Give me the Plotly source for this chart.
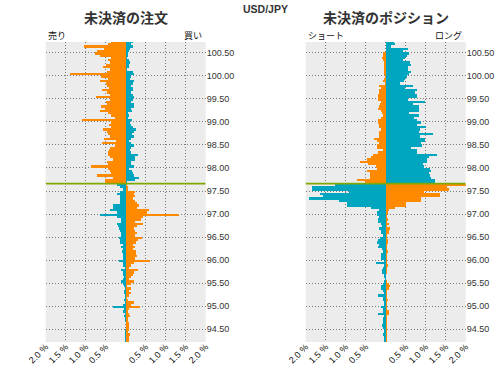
import plotly.graph_objects as go

# ---------------- data ----------------
PAIR = "USD/JPY"
CURRENT_PRICE = 97.66
BUCKET = 0.05
N_ABOVE = 62
N_BELOW = 69

# Open orders (%), above current price, listed from top (highest price) down to the price line
orders_sell_above = [0.38, 0.44, 1.05, 0.54, 0.73, 0.78, 0.65, 0.36, 0.44, 0.40,
                     0.50, 0.57, 0.40, 0.48, 1.40, 0.61, 0.44, 0.65, 0.50, 0.48,
                     0.42, 0.60, 0.48, 0.40, 0.75, 0.40, 0.50, 0.48, 0.63, 0.53,
                     0.65, 0.44, 0.38, 0.28, 1.10, 0.38, 0.42, 0.38, 0.57, 0.48,
                     0.44, 0.40, 0.54, 0.25, 0.60, 0.27, 0.40, 0.42, 0.44, 0.44,
                     0.40, 0.33, 0.47, 0.44, 0.88, 0.44, 0.40, 0.38, 0.73, 0.32,
                     0.52, 0.53]
orders_buy_above = [0.17, 0.12, 0.17, 0.10, 0.08, 0.06, 0.06, 0.03, 0.08, 0.10,
                    0.08, 0.08, 0.03, 0.17, 0.20, 0.14, 0.10, 0.20, 0.18, 0.14,
                    0.17, 0.17, 0.14, 0.18, 0.20, 0.17, 0.14, 0.20, 0.20, 0.14,
                    0.15, 0.06, 0.07, 0.06, 0.15, 0.10, 0.13, 0.18, 0.25, 0.20,
                    0.15, 0.20, 0.12, 0.08, 0.12, 0.20, 0.12, 0.10, 0.12, 0.30,
                    0.23, 0.22, 0.12, 0.14, 0.20, 0.08, 0.15, 0.18, 0.20, 0.32,
                    0.23, 0.03]
# Open orders (%), below current price, listed from the price line downward
orders_sell_below = [0.23, 0.15, 0.07, 0.15, 0.22, 0.15, 0.15, 0.15, 0.15, 0.32,
                     0.32, 0.40, 0.23, 0.65, 0.23, 0.11, 0.11, 0.22, 0.19, 0.17,
                     0.15, 0.11, 0.13, 0.17, 0.15, 0.15, 0.08, 0.11, 0.08, 0.10,
                     0.07, 0.08, 0.07, 0.17, 0.08, 0.07, 0.03, 0.13, 0.08, 0.07,
                     0.05, 0.08, 0.13, 0.07, 0.05, 0.03, 0.05, 0.05, 0.03, 0.03,
                     0.05, 0.03, 0.07, 0.32, 0.05, 0.07, 0.03, 0.05, 0.02, 0.02,
                     0.00, 0.00, 0.00, 0.02, 0.03, 0.01, 0.02, 0.01, 0.02]
orders_buy_below = [0.03, 0.05, 0.06, 0.22, 0.20, 0.22, 0.18, 0.22, 0.27, 0.32,
                    0.28, 0.57, 0.52, 1.32, 0.43, 0.37, 0.22, 0.42, 0.27, 0.20,
                    0.22, 0.28, 0.22, 0.40, 0.31, 0.25, 0.18, 0.22, 0.18, 0.25,
                    0.25, 0.27, 0.22, 0.60, 0.20, 0.12, 0.08, 0.30, 0.20, 0.17,
                    0.14, 0.08, 0.20, 0.12, 0.03, 0.12, 0.08, 0.12, 0.08, 0.03,
                    0.05, 0.20, 0.14, 0.35, 0.08, 0.06, 0.08, 0.10, 0.05, 0.06,
                    0.07, 0.07, 0.08, 0.08, 0.06, 0.10, 0.07, 0.08, 0.07]

# Open positions (%), above current price, top down to the price line
positions_short_above = [0.00, 0.00, 0.00, 0.00, 0.00, 0.07, 0.08, 0.10, 0.07, 0.05,
                         0.05, 0.04, 0.04, 0.04, 0.04, 0.03, 0.04, 0.07, 0.03, 0.18,
                         0.11, 0.17, 0.18, 0.20, 0.20, 0.19, 0.11, 0.15, 0.17, 0.20,
                         0.13, 0.10, 0.07, 0.12, 0.20, 0.20, 0.17, 0.17, 0.12, 0.17,
                         0.18, 0.17, 0.30, 0.23, 0.17, 0.22, 0.22, 0.07, 0.20, 0.33,
                         0.38, 0.48, 0.65, 0.44, 0.25, 0.22, 0.47, 0.40, 0.40, 0.40,
                         0.72, 0.53]
positions_long_above = [0.20, 0.23, 0.14, 0.55, 0.43, 0.58, 0.52, 0.48, 0.43, 0.60,
                        0.63, 0.56, 0.56, 0.63, 0.58, 0.53, 0.48, 0.45, 0.35, 0.68,
                        0.48, 0.77, 0.73, 0.77, 0.77, 0.56, 0.98, 0.67, 0.83, 0.83,
                        0.83, 0.58, 0.83, 0.71, 0.77, 0.88, 0.79, 1.00, 0.85, 0.83,
                        1.17, 0.85, 0.98, 0.98, 0.89, 0.90, 0.62, 0.77, 0.78, 1.27,
                        1.08, 1.02, 1.02, 0.93, 0.95, 1.10, 1.13, 1.08, 1.10, 1.14,
                        1.23, 1.23]
# Open positions (%), below current price, from the price line downward
positions_short_below = [1.28, 1.85, 1.85, 0.92, 1.65, 1.57, 1.93, 1.17, 0.97, 0.97,
                         0.38, 0.17, 0.22, 0.22, 0.17, 0.19, 0.20, 0.12, 0.10, 0.17,
                         0.13, 0.11, 0.07, 0.15, 0.20, 0.22, 0.17, 0.20, 0.10, 0.07,
                         0.12, 0.12, 0.12, 0.05, 0.25, 0.05, 0.07, 0.10, 0.10, 0.05,
                         0.05, 0.03, 0.05, 0.07, 0.12, 0.12, 0.07, 0.05, 0.20, 0.07,
                         0.08, 0.05, 0.05, 0.13, 0.07, 0.07, 0.20, 0.05, 0.07, 0.08,
                         0.07, 0.10, 0.07, 0.05, 0.05, 0.07, 0.05, 0.04, 0.05]
positions_long_below = [2.10, 1.52, 1.58, 0.95, 1.35, 1.35, 0.88, 0.88, 0.50, 0.50,
                        0.23, 0.08, 0.06, 0.03, 0.03, 0.05, 0.02, 0.07, 0.03, 0.10,
                        0.08, 0.07, 0.02, 0.03, 0.05, 0.05, 0.03, 0.03, 0.02, 0.05,
                        0.02, 0.02, 0.02, 0.03, 0.03, 0.05, 0.02, 0.02, 0.02, 0.01,
                        0.01, 0.00, 0.02, 0.07, 0.10, 0.08, 0.02, 0.02, 0.02, 0.02,
                        0.05, 0.02, 0.02, 0.02, 0.02, 0.07, 0.07, 0.03, 0.02, 0.02,
                        0.02, 0.02, 0.03, 0.02, 0.03, 0.02, 0.02, 0.02, 0.02]

price_ticks = [94.5, 95.0, 95.5, 96.0, 96.5, 97.0, 97.5, 98.0, 98.5, 99.0, 99.5, 100.0, 100.5]
pct_ticks = [-2.0, -1.5, -1.0, -0.5, 0.0, 0.5, 1.0, 1.5, 2.0]
pct_labels = ["2.0 %", "1.5 %", "1.0 %", "0.5 %", "", "0.5 %", "1.0 %", "1.5 %", "2.0 %"]

panel_titles = ["未決済の注文", "未決済のポジション"]
side_labels = [("売り", "買い"), ("ショート", "ロング")]

# ---------------- styling ----------------
ORANGE = "#ff8a00"
TEAL = "#00a5c0"
GREEN = "#80a800"
BG = "#ececec"
GRID = "#7a7a7a"
W, H = 496, 365
JP = "Noto Sans CJK JP"
LAT = "Liberation Sans, Arial, sans-serif"

bucket_prices = ([CURRENT_PRICE + BUCKET * (j + 0.5) for j in reversed(range(N_ABOVE))] +
                 [CURRENT_PRICE - BUCKET * (k + 0.5) for k in range(N_BELOW)])

x_domains = [[45.7 / W, 205.7 / W], [305.7 / W, 465.7 / W]]
y_domain = [23 / H, 323 / H]
y_range = [94.225, 100.732]

fig = go.Figure()
panels = [
    (orders_sell_above + orders_sell_below, orders_buy_above + orders_buy_below),
    (positions_short_above + positions_short_below, positions_long_above + positions_long_below),
]
for i, (left_vals, right_vals) in enumerate(panels):
    xa = "x" if i == 0 else "x2"
    ya = "y" if i == 0 else "y2"
    left_colors = [ORANGE if p > CURRENT_PRICE else TEAL for p in bucket_prices]
    right_colors = [TEAL if p > CURRENT_PRICE else ORANGE for p in bucket_prices]
    fig.add_trace(go.Bar(y=bucket_prices, x=[-v for v in left_vals], orientation="h",
                         width=BUCKET, marker=dict(color=left_colors, line=dict(width=0)),
                         xaxis=xa, yaxis=ya, showlegend=False, hoverinfo="skip"))
    fig.add_trace(go.Bar(y=bucket_prices, x=right_vals, orientation="h",
                         width=BUCKET, marker=dict(color=right_colors, line=dict(width=0)),
                         xaxis=xa, yaxis=ya, showlegend=False, hoverinfo="skip"))

axis_common_x = dict(range=[-2, 2], tickvals=pct_ticks, ticktext=pct_labels, tickangle=-45,
                     showgrid=True, gridcolor=GRID, griddash="1px,2px", gridwidth=1,
                     zeroline=False, showline=False, ticks="", automargin=False,
                     ticklabelstandoff=-3,
                     tickfont=dict(family=LAT, size=9, color="#111"), fixedrange=True)
axis_common_y = dict(range=y_range, tickvals=price_ticks, tickformat=".2f", side="right",
                     showgrid=True, gridcolor=GRID, griddash="1px,2px", gridwidth=1,
                     zeroline=False, showline=False, ticks="", automargin=False,
                     tickfont=dict(family=LAT, size=9, color="#333"), fixedrange=True)

fig.update_layout(
    width=W, height=H, margin=dict(l=0, r=0, t=0, b=0, autoexpand=False),
    paper_bgcolor="white", plot_bgcolor=BG,
    barmode="relative", bargap=0,
    xaxis=dict(domain=x_domains[0], anchor="y", **axis_common_x),
    yaxis=dict(domain=y_domain, anchor="x", **axis_common_y),
    xaxis2=dict(domain=x_domains[1], anchor="y2", **axis_common_x),
    yaxis2=dict(domain=y_domain, anchor="x2", **axis_common_y),
)

shapes = []
annotations = []
for i in range(2):
    xr = "x" if i == 0 else "x2"
    yr = "y" if i == 0 else "y2"
    # current price line
    shapes.append(dict(type="line", xref=xr, yref=yr, x0=-2, x1=2,
                       y0=CURRENT_PRICE, y1=CURRENT_PRICE,
                       line=dict(color=GREEN, width=1.6), layer="above"))
    # price marker tag
    shapes.append(dict(type="path", xref=xr, yref=yr, xsizemode="pixel", ysizemode="pixel",
                       xanchor=-2, yanchor=CURRENT_PRICE,
                       path="M-46,8 L-3,8 L0,1 L-3,-6 L-46,-6 Z",
                       fillcolor=GREEN, line=dict(width=0), layer="above"))
    annotations.append(dict(xref=xr, yref=yr, x=-2, y=CURRENT_PRICE, xshift=-44, yshift=1,
                            xanchor="left", yanchor="middle", showarrow=False,
                            text=f"{CURRENT_PRICE:.2f}",
                            font=dict(family=LAT, size=11, color="white")))
    cx = (x_domains[i][0] + x_domains[i][1]) / 2
    annotations.append(dict(xref="paper", yref="paper", x=cx, y=1 - 17 / H,
                            xanchor="center", yanchor="middle", showarrow=False,
                            text=f"<b>{panel_titles[i]}</b>",
                            font=dict(family=JP, size=14, color="#333")))
    annotations.append(dict(xref="paper", yref="paper", x=x_domains[i][0], y=1 - 35.5 / H,
                            xanchor="left", yanchor="middle", showarrow=False,
                            text=side_labels[i][0],
                            font=dict(family=JP, size=9, color="#111")))
    annotations.append(dict(xref="paper", yref="paper", x=x_domains[i][1] - 2 / W, y=1 - 35.5 / H,
                            xanchor="right", yanchor="middle", showarrow=False,
                            text=side_labels[i][1],
                            font=dict(family=JP, size=9, color="#111")))

annotations.append(dict(xref="paper", yref="paper", x=265 / W, y=1 - 1 / H,
                        xanchor="center", yanchor="top", showarrow=False,
                        text=f"<b>{PAIR}</b>",
                        font=dict(family=LAT, size=10.5, color="#333")))

fig.update_layout(shapes=shapes, annotations=annotations)
fig.write_html("out.html", config={"displayModeBar": False, "staticPlot": True},
               post_script="document.body.style.margin='0';document.body.style.overflow='hidden';")
